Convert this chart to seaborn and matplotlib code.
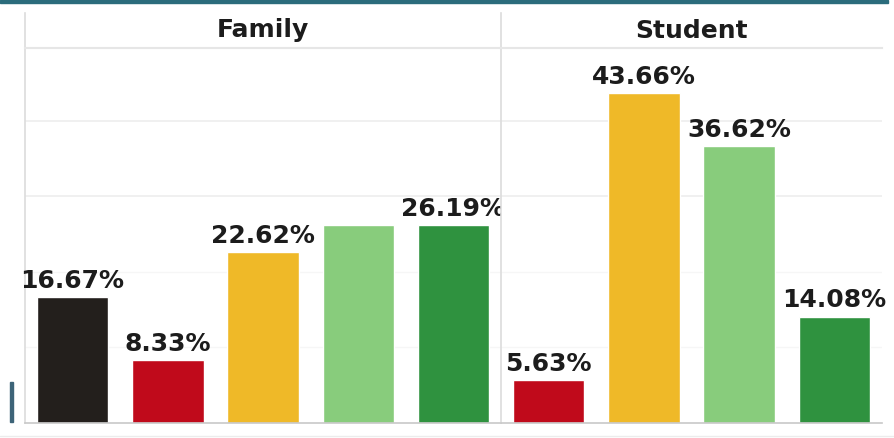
import matplotlib
matplotlib.use("Agg")
import matplotlib.pyplot as plt
import matplotlib.patches as mpatches
import matplotlib.lines as mlines
import pandas as pd
import seaborn as sns

# Response levels and their colours
levels = ["Very poor", "Poor", "Fair", "Good", "Excellent"]
level_colors = ["#231f1c", "#c00a1b", "#efb928", "#88cc7c", "#2f923f"]

# Share of answers (%) per group
family_levels = ["Very poor", "Poor", "Fair", "Good", "Excellent"]
family_share = [16.67, 8.33, 22.62, 26.19, 26.19]
family_labels = ["16.67%", "8.33%", "22.62%", "", "26.19%"]

student_levels = ["Poor", "Fair", "Good", "Excellent"]
student_share = [5.63, 43.66, 36.62, 14.08]
student_labels = ["5.63%", "43.66%", "36.62%", "14.08%"]

# reference lines (%): faint lower ones, clearer upper ones
faint_grid = [10, 20]
clear_grid = [30, 40]

palette = dict(zip(levels, level_colors))

sns.set_theme(style="white")
plt.rcParams["font.family"] = ["DejaVu Sans"]

W, H = 894, 438
fig = plt.figure(figsize=(W / 100, H / 100), dpi=100)
fig.patch.set_facecolor("white")


def px_rect(x0, y0, x1, y1):
    """Convert a pixel box (top-left origin) to figure fractions."""
    return [x0 / W, 1 - y1 / H, (x1 - x0) / W, (y1 - y0) / H]


base_y, top_y, strip_top = 423, 48, 13
slot = 95.2
panels = [
    ("Family", family_levels, family_share, family_labels),
    ("Student", student_levels, student_share, student_labels),
]

x_left = 25
frame_c = "#dcdcdc"
for title, cats, vals, labs in panels:
    width_px = slot * len(cats)
    ax = fig.add_axes(px_rect(x_left, top_y, x_left + width_px, base_y))
    df = pd.DataFrame({"level": cats, "share": vals})
    sns.barplot(data=df, x="level", y="share", hue="level", order=cats,
                hue_order=cats, palette=palette, width=0.75, legend=False,
                saturation=1, ax=ax, zorder=2)
    ax.set_xlim(-0.5, len(cats) - 0.5)
    ax.set_ylim(0, (base_y - top_y) / 7.56)
    for g in faint_grid:
        ax.axhline(g, color="#f6f6f6", linewidth=1, zorder=0)
    for g in clear_grid:
        ax.axhline(g, color="#ededed", linewidth=1.2, zorder=0)
    ax.set_xticks([])
    ax.set_yticks([])
    ax.set_xlabel("")
    ax.set_ylabel("")
    for side in ["top", "right"]:
        ax.spines[side].set_visible(False)
    ax.spines["left"].set_color(frame_c)
    ax.spines["left"].set_linewidth(1.2)
    ax.spines["bottom"].set_color("#c8c8c8")
    ax.spines["bottom"].set_linewidth(1.2)

    for cont, lab in zip(ax.containers, labs):
        ax.bar_label(cont, labels=[lab], padding=3, fontsize=18,
                     fontweight="bold", color="#1c1c1c")

    # facet title strip
    sx = fig.add_axes(px_rect(x_left, strip_top, x_left + width_px, top_y))
    sx.set_xlim(0, 1)
    sx.set_ylim(0, 1)
    sx.set_xticks([])
    sx.set_yticks([])
    for side in ["top", "right"]:
        sx.spines[side].set_visible(False)
    sx.spines["left"].set_color(frame_c)
    sx.spines["left"].set_linewidth(1.2)
    sx.spines["bottom"].set_color("#e6e6e6")
    sx.spines["bottom"].set_linewidth(1.5)
    sx.text(0.5, 0.5, title, ha="center", va="center", fontsize=18,
            fontweight="bold", color="#1c1c1c")

    x_left += width_px

# window frame accents
fig.patches.append(mpatches.Rectangle((0, 1 - 3 / H), 888 / W, 3 / H,
                                      transform=fig.transFigure,
                                      color="#2b6c7c", zorder=5))
fig.patches.append(mpatches.Rectangle((10 / W, 1 - 422 / H), 2.5 / W, 40 / H,
                                      transform=fig.transFigure,
                                      color="#3d6478", zorder=5))
fig.lines.append(mlines.Line2D([0, 1], [1 - 436 / H] * 2,
                               transform=fig.transFigure,
                               color="#ececec", linewidth=1))

fig.savefig("out.png", dpi=100)
